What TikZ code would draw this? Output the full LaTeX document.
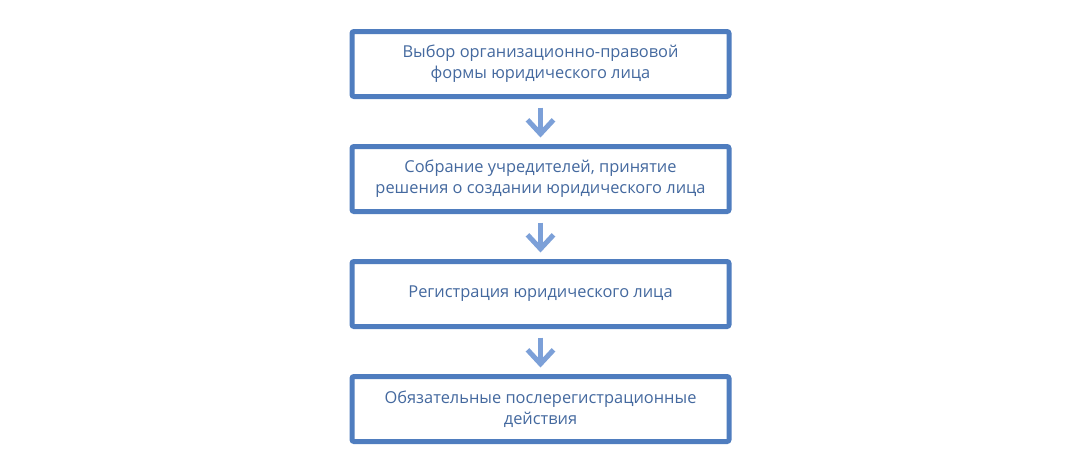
\documentclass[tikz,border=0pt]{standalone}
\usepackage{fontspec}
\setmainfont{Open Sans}
\usetikzlibrary{arrows.meta}
\definecolor{boxblue}{HTML}{4F7DBF}
\definecolor{arrowblue}{HTML}{7CA0D8}
\definecolor{textblue}{HTML}{44699F}
\begin{document}
\begin{tikzpicture}[x=1pt,y=-1pt,
  stepbox/.style={draw=boxblue, line width=5pt, rounded corners=2pt, fill=white,
    minimum width=377pt, minimum height=65pt, align=center, text=textblue,
    font=\fontsize{16.4}{21}\selectfont, inner sep=0pt},
  flow/.style={draw=arrowblue, line width=5pt, shorten <=8.5pt, shorten >=6.5pt,
    -{Straight Barb[length=14pt,width=26pt,line width=5pt]}}]
\useasboundingbox (0,0) rectangle (1080,474);
\node[stepbox] (b1) at (540.5,64) {Выбор организационно-правовой\\формы юридического лица};
\node[stepbox] (b2) at (540.5,179) {Собрание учредителей, принятие\\решения о создании юридического лица};
\node[stepbox] (b3) at (540.5,294) {Регистрация юридического лица};
\node[stepbox] (b4) at (540.5,409) {Обязательные послерегистрационные\\действия};
\draw[flow] (b1) -- (b2);
\draw[flow] (b2) -- (b3);
\draw[flow] (b3) -- (b4);
\end{tikzpicture}
\end{document}
